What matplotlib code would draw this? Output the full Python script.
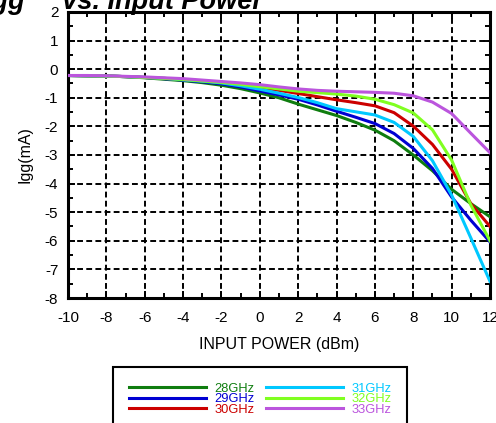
import matplotlib.pyplot as plt
from matplotlib.ticker import MultipleLocator

plt.rcParams['font.family'] = ['Liberation Sans', 'DejaVu Sans']
plt.rcParams['axes.unicode_minus'] = False

# input power (dBm)
pin = [-10, -9, -8, -7, -6, -5, -4, -3, -2, -1, 0, 1, 2, 3, 4, 5, 6, 7, 8, 9, 10, 11, 12]

# Igg (mA) per frequency
igg_28 = [-0.22, -0.23, -0.24, -0.26, -0.30, -0.35, -0.40, -0.47, -0.56, -0.68, -0.83, -1.00,
          -1.22, -1.42, -1.62, -1.86, -2.13, -2.50, -3.00, -3.55, -4.20, -4.70, -5.16]
igg_29 = [-0.22, -0.23, -0.24, -0.26, -0.29, -0.33, -0.38, -0.44, -0.51, -0.62, -0.76, -0.90,
          -1.05, -1.25, -1.47, -1.68, -1.90, -2.25, -2.77, -3.47, -4.47, -5.28, -6.04]
igg_30 = [-0.22, -0.23, -0.24, -0.26, -0.29, -0.32, -0.36, -0.41, -0.47, -0.55, -0.64, -0.74,
          -0.85, -0.96, -1.07, -1.17, -1.28, -1.52, -1.99, -2.63, -3.50, -4.70, -5.50]
igg_31 = [-0.22, -0.23, -0.24, -0.26, -0.29, -0.32, -0.37, -0.42, -0.48, -0.58, -0.70, -0.84,
          -0.99, -1.17, -1.38, -1.49, -1.60, -1.86, -2.35, -3.20, -4.40, -5.90, -7.42]
igg_32 = [-0.22, -0.23, -0.24, -0.26, -0.29, -0.32, -0.36, -0.41, -0.46, -0.53, -0.61, -0.69,
          -0.77, -0.82, -0.87, -0.94, -1.05, -1.24, -1.53, -2.12, -3.18, -4.75, -6.00]
igg_33 = [-0.22, -0.22, -0.23, -0.25, -0.27, -0.30, -0.33, -0.38, -0.43, -0.48, -0.54, -0.62,
          -0.69, -0.74, -0.77, -0.79, -0.81, -0.84, -0.93, -1.15, -1.55, -2.24, -2.92]

labels = ['28GHz', '29GHz', '30GHz', '31GHz', '32GHz', '33GHz']
colors = ['#0f7d0f', '#0000d2', '#cc0000', '#00c8ff', '#80ff20', '#bb55dd']
series = [igg_28, igg_29, igg_30, igg_31, igg_32, igg_33]

fig = plt.figure(figsize=(4.96, 4.23), dpi=100)
ax = fig.add_axes([68 / 496, 1 - 298 / 423, (490 - 68) / 496, (298 - 12) / 423])

for s, lab, c in zip(series, labels, colors):
    ax.plot(pin, s, color=c, lw=2.2, label=lab, zorder=3)

ax.set_xlim(-10, 12)
ax.set_ylim(-8, 2)
ax.xaxis.set_major_locator(MultipleLocator(2))
ax.xaxis.set_minor_locator(MultipleLocator(1))
ax.yaxis.set_major_locator(MultipleLocator(1))
ax.yaxis.set_minor_locator(MultipleLocator(0.5))
ax.grid(True, which='major', color='black', lw=1.4, linestyle=(0, (3, 1.7)))
ax.tick_params(which='both', direction='in', top=True, right=True, width=1.4, labelsize=11)
ax.tick_params(which='major', length=5)
ax.tick_params(which='minor', length=3.5)
ax.tick_params(axis='x', pad=9)
ax.tick_params(axis='y', pad=7)
for sp in ax.spines.values():
    sp.set_linewidth(2.2)

ax.set_xlabel('INPUT POWER (dBm)', fontsize=11.5, labelpad=9)
ax.set_ylabel('Igg(mA)', fontsize=11.5, labelpad=9)

fig.text(-0.032, 0.978, 'Igg     vs. Input Power', fontsize=19.5, fontweight='bold',
         fontstyle='italic', ha='left', va='baseline')

leg = fig.legend(loc='upper center', bbox_to_anchor=(260 / 496, 1 - 367 / 423), ncol=2,
                 fontsize=9.3, labelcolor='linecolor', handlelength=6, handletextpad=0.6,
                 columnspacing=0.9, labelspacing=-0.12, borderpad=1.2, borderaxespad=0,
                 fancybox=False, edgecolor='black', framealpha=1)
leg.get_frame().set_linewidth(1.5)

fig.savefig('out.png', dpi=100)
